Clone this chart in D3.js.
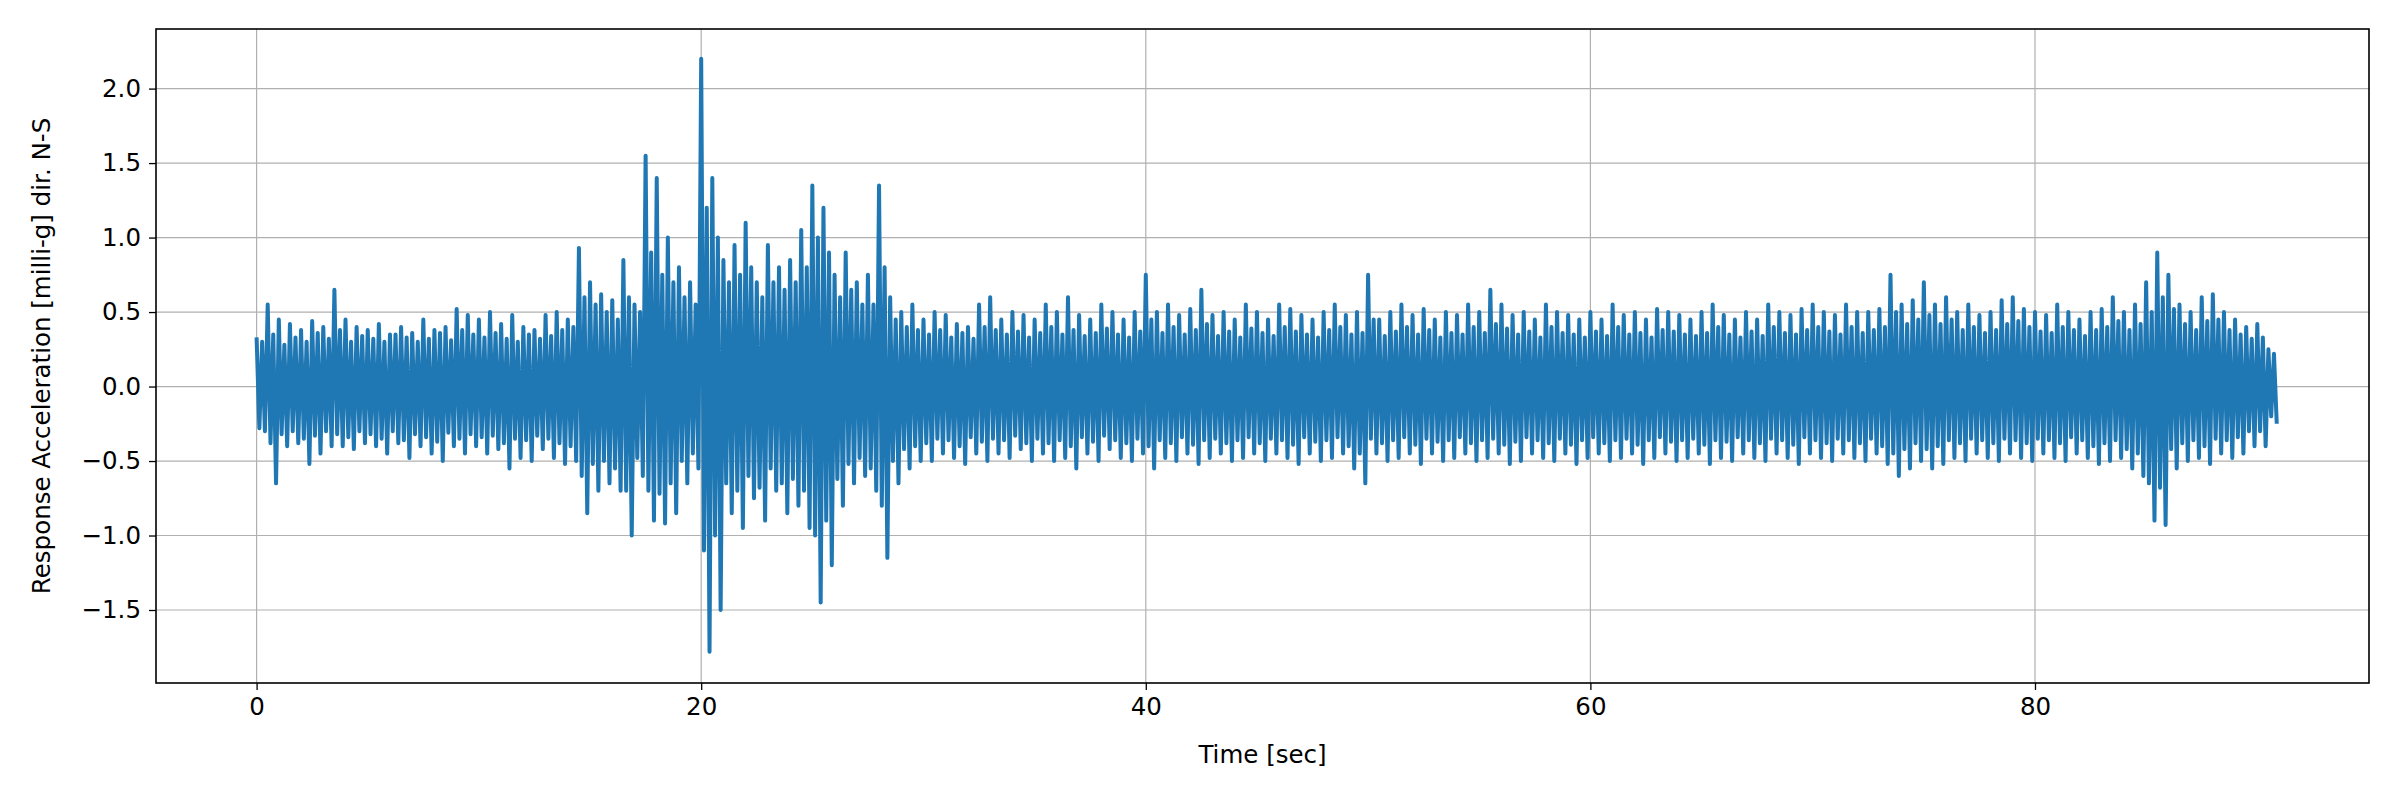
<!DOCTYPE html>
<html><head><meta charset="utf-8">
<script src="https://cdn.jsdelivr.net/npm/d3@7"></script>
<style>body{margin:0;background:#fff}svg{font-family:"DejaVu Sans",sans-serif}</style>
</head><body><svg id="c" width="2400" height="800"></svg>
<script>
const step = 0.5;
// primary peaks per half second
const hi = [0.33,0.55,0.45,0.42,0.38,0.44,0.40,0.65,0.45,0.40,
0.38,0.42,0.35,0.40,0.36,0.45,0.38,0.40,0.52,0.48,
0.45,0.50,0.42,0.48,0.40,0.38,0.48,0.50,0.45,0.93,
0.70,0.62,0.58,0.85,0.55,1.55,1.40,1.00,0.80,0.70,
2.20,1.40,0.85,0.95,1.10,0.70,0.95,0.80,0.85,1.05,
1.35,1.20,0.75,0.90,0.70,0.75,1.35,0.60,0.50,0.55,
0.45,0.50,0.48,0.42,0.40,0.55,0.60,0.45,0.50,0.48,
0.45,0.55,0.50,0.60,0.48,0.45,0.55,0.50,0.45,0.50,
0.75,0.50,0.55,0.48,0.52,0.65,0.48,0.50,0.45,0.55,
0.50,0.45,0.55,0.52,0.48,0.45,0.50,0.55,0.48,0.50,
0.75,0.45,0.50,0.55,0.48,0.52,0.45,0.50,0.48,0.55,
0.50,0.65,0.55,0.48,0.50,0.45,0.55,0.50,0.48,0.45,
0.50,0.45,0.55,0.48,0.50,0.45,0.52,0.50,0.48,0.45,
0.50,0.55,0.48,0.45,0.50,0.45,0.55,0.50,0.48,0.52,
0.55,0.50,0.48,0.55,0.50,0.50,0.52,0.75,0.55,0.58,
0.70,0.55,0.60,0.50,0.55,0.48,0.50,0.58,0.60,0.52,
0.50,0.48,0.55,0.50,0.45,0.50,0.52,0.60,0.50,0.55,
0.70,0.90,0.75,0.55,0.50,0.60,0.62,0.50,0.45,0.40,
0.42,0.25];
const lo = [-0.30,-0.65,-0.40,-0.38,-0.52,-0.45,-0.40,-0.40,-0.42,-0.38,
-0.40,-0.45,-0.38,-0.48,-0.40,-0.45,-0.50,-0.40,-0.45,-0.40,
-0.45,-0.42,-0.55,-0.48,-0.50,-0.42,-0.48,-0.52,-0.50,-0.85,
-0.70,-0.65,-0.70,-1.00,-0.60,-0.90,-0.92,-0.85,-0.65,-0.55,
-1.78,-1.50,-0.85,-0.95,-0.75,-0.90,-0.70,-0.85,-0.80,-0.95,
-1.45,-1.20,-0.80,-0.65,-0.60,-0.70,-1.15,-0.65,-0.55,-0.50,
-0.50,-0.45,-0.48,-0.52,-0.45,-0.50,-0.45,-0.48,-0.42,-0.50,
-0.45,-0.50,-0.48,-0.55,-0.45,-0.50,-0.42,-0.48,-0.50,-0.45,
-0.55,-0.48,-0.50,-0.45,-0.52,-0.48,-0.45,-0.50,-0.48,-0.45,
-0.50,-0.45,-0.48,-0.52,-0.45,-0.50,-0.48,-0.45,-0.55,-0.65,
-0.45,-0.50,-0.48,-0.45,-0.52,-0.45,-0.50,-0.48,-0.45,-0.50,
-0.48,-0.45,-0.52,-0.50,-0.45,-0.48,-0.50,-0.45,-0.52,-0.48,
-0.45,-0.50,-0.48,-0.45,-0.52,-0.48,-0.45,-0.50,-0.48,-0.45,
-0.52,-0.48,-0.50,-0.45,-0.48,-0.50,-0.45,-0.48,-0.52,-0.45,
-0.48,-0.50,-0.45,-0.48,-0.50,-0.45,-0.52,-0.60,-0.55,-0.50,
-0.55,-0.52,-0.48,-0.50,-0.45,-0.48,-0.50,-0.45,-0.48,-0.50,
-0.45,-0.48,-0.50,-0.45,-0.48,-0.52,-0.50,-0.48,-0.55,-0.60,
-0.90,-0.93,-0.55,-0.50,-0.48,-0.52,-0.45,-0.48,-0.45,-0.40,
-0.40,-0.25];
// secondary peaks between primaries
const hi2 = [0.30,0.35,0.28,0.33,0.30,0.36,0.32,0.38,0.30,0.34,
0.32,0.30,0.35,0.33,0.30,0.32,0.36,0.31,0.38,0.35,
0.33,0.36,0.32,0.30,0.35,0.32,0.34,0.38,0.40,0.60,
0.55,0.50,0.45,0.60,0.50,0.90,0.75,0.70,0.60,0.55,
1.20,1.00,0.70,0.75,0.80,0.60,0.70,0.65,0.70,0.80,
1.00,0.90,0.60,0.65,0.55,0.55,0.80,0.45,0.40,0.38,
0.35,0.38,0.33,0.36,0.32,0.40,0.38,0.35,0.37,0.33,
0.36,0.40,0.35,0.38,0.34,0.36,0.39,0.35,0.33,0.37,
0.45,0.36,0.40,0.35,0.38,0.42,0.34,0.37,0.33,0.39,
0.36,0.34,0.40,0.37,0.35,0.33,0.38,0.40,0.35,0.36,
0.45,0.34,0.37,0.40,0.35,0.38,0.33,0.36,0.35,0.40,
0.36,0.42,0.39,0.35,0.37,0.33,0.40,0.36,0.35,0.33,
0.37,0.34,0.40,0.35,0.36,0.33,0.38,0.37,0.35,0.34,
0.36,0.40,0.35,0.33,0.37,0.34,0.40,0.36,0.35,0.38,
0.40,0.37,0.35,0.40,0.36,0.38,0.40,0.50,0.42,0.45,
0.48,0.42,0.45,0.38,0.40,0.36,0.38,0.42,0.44,0.40,
0.37,0.36,0.40,0.38,0.34,0.38,0.40,0.44,0.38,0.42,
0.50,0.60,0.52,0.42,0.38,0.44,0.45,0.38,0.35,0.32,
0.33,0.22];
const lo2 = [-0.28,-0.38,-0.32,-0.30,-0.35,-0.33,-0.30,-0.32,-0.34,-0.30,
-0.32,-0.35,-0.30,-0.36,-0.32,-0.34,-0.37,-0.31,-0.35,-0.32,
-0.34,-0.33,-0.38,-0.35,-0.36,-0.33,-0.35,-0.38,-0.40,-0.60,
-0.52,-0.50,-0.55,-0.70,-0.48,-0.70,-0.72,-0.65,-0.50,-0.45,
-1.10,-1.00,-0.65,-0.70,-0.60,-0.68,-0.55,-0.65,-0.62,-0.70,
-1.00,-0.90,-0.62,-0.52,-0.48,-0.55,-0.80,-0.50,-0.42,-0.40,
-0.38,-0.35,-0.36,-0.40,-0.34,-0.37,-0.35,-0.36,-0.33,-0.38,
-0.35,-0.38,-0.36,-0.40,-0.34,-0.37,-0.33,-0.36,-0.38,-0.35,
-0.40,-0.36,-0.38,-0.34,-0.39,-0.36,-0.35,-0.38,-0.36,-0.34,
-0.38,-0.35,-0.36,-0.39,-0.34,-0.37,-0.36,-0.34,-0.40,-0.45,
-0.35,-0.38,-0.36,-0.34,-0.39,-0.35,-0.37,-0.36,-0.34,-0.38,
-0.36,-0.35,-0.39,-0.37,-0.34,-0.36,-0.38,-0.35,-0.39,-0.36,
-0.34,-0.38,-0.36,-0.35,-0.39,-0.36,-0.34,-0.37,-0.36,-0.35,
-0.39,-0.36,-0.37,-0.34,-0.36,-0.38,-0.35,-0.36,-0.39,-0.34,
-0.36,-0.38,-0.35,-0.36,-0.38,-0.35,-0.40,-0.45,-0.42,-0.38,
-0.42,-0.40,-0.36,-0.38,-0.35,-0.36,-0.38,-0.35,-0.36,-0.38,
-0.35,-0.36,-0.38,-0.34,-0.36,-0.40,-0.38,-0.36,-0.42,-0.45,
-0.65,-0.68,-0.42,-0.38,-0.36,-0.40,-0.35,-0.36,-0.34,-0.30,
-0.30,-0.20];
const xTicks = [0,20,40,60,80];
const yTicks = [-1.5,-1.0,-0.5,0.0,0.5,1.0,1.5,2.0];

const pts = [];
hi.forEach((v,i)=>{
  const t=i*step;
  pts.push([t, v]); pts.push([t+step/4, lo2[i]]);
  pts.push([t+step/2, hi2[i]]); pts.push([t+3*step/4, lo[i]]);
});

const W=2400,H=800,m={l:156,r:31,t:29,b:117};
const svg=d3.select('#c');
const x=d3.scaleLinear().domain([-4.525,95.025]).range([m.l,W-m.r]);
const y=d3.scaleLinear().domain([-1.99,2.40]).range([H-m.b,m.t]);

const g=svg.append('g');
g.selectAll('.gx').data(xTicks).join('line').attr('x1',d=>x(d)).attr('x2',d=>x(d)).attr('y1',m.t).attr('y2',H-m.b).attr('stroke','#b0b0b0').attr('stroke-width',1.2);
g.selectAll('.gy').data(yTicks).join('line').attr('y1',d=>y(d)).attr('y2',d=>y(d)).attr('x1',m.l).attr('x2',W-m.r).attr('stroke','#b0b0b0').attr('stroke-width',1.2);

svg.append('path').datum(pts).attr('fill','none').attr('stroke','#1f77b4').attr('stroke-width',4).attr('stroke-linejoin','round')
  .attr('d',d3.line().x(d=>x(d[0])).y(d=>y(d[1])));

const fs=24.5;
const xa=svg.append('g').attr('transform',`translate(0,${H-m.b})`).call(d3.axisBottom(x).tickValues(xTicks).tickFormat(d3.format('d')).tickSize(7).tickPadding(8));
const ya=svg.append('g').attr('transform',`translate(${m.l},0)`).call(d3.axisLeft(y).tickValues(yTicks).tickFormat(d=>d3.format('.1f')(d).replace('-','\u2212')).tickSize(7).tickPadding(8));
[xa,ya].forEach(a=>{a.select('.domain').remove();a.selectAll('text').attr('font-size',fs).attr('font-family','DejaVu Sans').attr('fill','#000');a.selectAll('line').attr('stroke','#000').attr('stroke-width',1.3);});
svg.append('rect').attr('x',m.l).attr('y',m.t).attr('width',W-m.l-m.r).attr('height',H-m.t-m.b).attr('fill','none').attr('stroke','#000').attr('stroke-width',1.6);

svg.append('text').attr('x',(m.l+W-m.r)/2).attr('y',763).attr('text-anchor','middle').attr('font-size',fs).text('Time [sec]');
svg.append('text').attr('transform',`translate(50,${(m.t+H-m.b)/2}) rotate(-90)`).attr('text-anchor','middle').attr('font-size',fs).text('Response Acceleration [milli-g] dir. N-S');
</script></body></html>
